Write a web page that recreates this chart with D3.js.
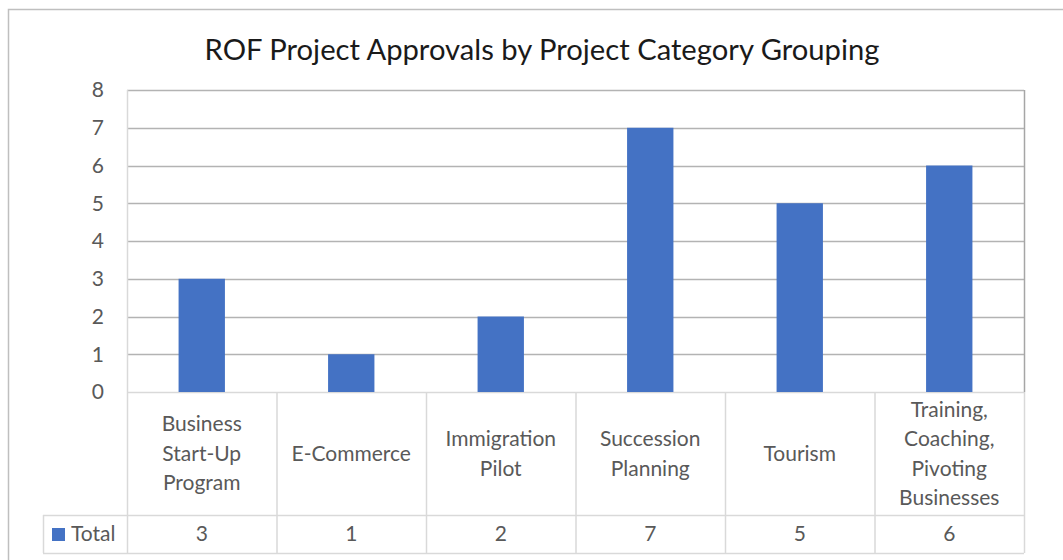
<!DOCTYPE html>
<html>
<head>
<meta charset="utf-8">
<script src="https://cdn.jsdelivr.net/npm/d3@7"></script>
<style>
  body { margin: 0; background: #fff; }
  svg { display: block; }
</style>
</head>
<body>
<div id="chart"></div>
<script>
// data
var categories = ["Business Start-Up Program", "E-Commerce", "Immigration Pilot",
                  "Succession Planning", "Tourism", "Training, Coaching, Pivoting Businesses"];
var labelLines = [["Business", "Start-Up", "Program"], ["E-Commerce"], ["Immigration", "Pilot"],
                  ["Succession", "Planning"], ["Tourism"], ["Training,", "Coaching,", "Pivoting", "Businesses"]];
var totals = [3, 1, 2, 7, 5, 6];
var yTicks = [0, 1, 2, 3, 4, 5, 6, 7, 8];
var seriesName = "Total";
var title = "ROF Project Approvals by Project Category Grouping";

var W = 1063, H = 560;
var plot = {left: 127, top: 90, right: 1024, bottom: 392};
var headerBottom = 515, tableBottom = 553, legendLeft = 43;
var font = "Lato, 'Open Sans', sans-serif";
var fs = "21px";

var svg = d3.select("#chart").append("svg")
    .attr("width", W)
    .attr("height", H);

// outer chart frame
svg.append("rect")
    .attr("x", 8.5).attr("y", 9.5)
    .attr("width", W + 20).attr("height", H + 20)
    .attr("fill", "#fff")
    .attr("stroke", "#bfbfbf")
    .attr("stroke-width", 1.5);

var xScale = d3.scaleBand()
    .domain(categories)
    .range([plot.left, plot.right])
    .paddingInner(0.69)
    .paddingOuter(0.345);

var xCell = d3.scaleBand()
    .domain(categories)
    .range([plot.left, plot.right]);

var yScale = d3.scaleLinear()
    .domain([0, 8])
    .range([plot.bottom, plot.top]);

// gridlines
svg.append("g")
    .selectAll("line")
    .data(yTicks)
    .enter().append("line")
    .attr("x1", plot.left).attr("x2", plot.right)
    .attr("y1", function(d) { return Math.round(yScale(d)) + 0.5; })
    .attr("y2", function(d) { return Math.round(yScale(d)) + 0.5; })
    .attr("stroke", function(d) { return d == 0 ? "#d9d9d9" : "#b3b3b3"; })
    .attr("stroke-width", 1.5);

// plot area sides
svg.append("line")
    .attr("x1", plot.left + 0.5).attr("x2", plot.left + 0.5)
    .attr("y1", plot.top).attr("y2", plot.bottom)
    .attr("stroke", "#d9d9d9").attr("stroke-width", 1.5);
svg.append("line")
    .attr("x1", plot.right + 0.5).attr("x2", plot.right + 0.5)
    .attr("y1", plot.top).attr("y2", plot.bottom)
    .attr("stroke", "#a6a6a6").attr("stroke-width", 1.5);

// bars
svg.selectAll(".bar")
    .data(totals)
    .enter().append("rect")
    .attr("class", "bar")
    .attr("x", function(d, i) { return xScale(categories[i]); })
    .attr("width", xScale.bandwidth())
    .attr("y", function(d) { return yScale(d); })
    .attr("height", function(d) { return plot.bottom - yScale(d); })
    .attr("fill", "#4472c4");

// y axis labels
svg.append("g")
    .selectAll("text")
    .data(yTicks)
    .enter().append("text")
    .attr("x", 104)
    .attr("y", function(d) { return yScale(d); })
    .attr("dy", "0.35em")
    .attr("text-anchor", "end")
    .attr("font-family", font)
    .attr("font-size", fs)
    .attr("fill", "#595959")
    .text(function(d) { return d; });

// data table grid
var tbl = svg.append("g").attr("stroke", "#d9d9d9").attr("stroke-width", 1.5);
var edges = categories.map(function(c) { return xCell(c); }).concat([plot.right]);
edges.forEach(function(x) {
    tbl.append("line")
        .attr("x1", x + 0.5).attr("x2", x + 0.5)
        .attr("y1", plot.bottom).attr("y2", tableBottom);
});
tbl.append("line").attr("x1", legendLeft).attr("x2", plot.right)
    .attr("y1", headerBottom + 0.5).attr("y2", headerBottom + 0.5);
tbl.append("line").attr("x1", legendLeft).attr("x2", plot.right)
    .attr("y1", tableBottom + 0.5).attr("y2", tableBottom + 0.5);
tbl.append("line").attr("x1", legendLeft + 0.5).attr("x2", legendLeft + 0.5)
    .attr("y1", headerBottom).attr("y2", tableBottom);

// category labels
var headMid = (plot.bottom + headerBottom) / 2;
var lineH = 29.5;
categories.forEach(function(c, i) {
    var lines = labelLines[i];
    var t = svg.append("text")
        .attr("text-anchor", "middle")
        .attr("font-family", font)
        .attr("font-size", fs)
        .attr("fill", "#595959");
    lines.forEach(function(l, j) {
        t.append("tspan")
            .attr("x", xCell(c) + xCell.bandwidth() / 2)
            .attr("y", headMid + (j - (lines.length - 1) / 2) * lineH)
            .attr("dy", "0.35em")
            .text(l);
    });
});

// value row
var rowMid = (headerBottom + tableBottom) / 2;
svg.append("g")
    .selectAll("text")
    .data(totals)
    .enter().append("text")
    .attr("x", function(d, i) { return xCell(categories[i]) + xCell.bandwidth() / 2; })
    .attr("y", rowMid)
    .attr("dy", "0.35em")
    .attr("text-anchor", "middle")
    .attr("font-family", font)
    .attr("font-size", fs)
    .attr("fill", "#595959")
    .text(function(d) { return d; });

// legend key
svg.append("rect")
    .attr("x", 52).attr("y", 528)
    .attr("width", 13).attr("height", 13)
    .attr("fill", "#4472c4");
svg.append("text")
    .attr("x", 71).attr("y", rowMid)
    .attr("dy", "0.35em")
    .attr("font-family", font)
    .attr("font-size", fs)
    .attr("fill", "#595959")
    .text(seriesName);

// title
var titleText = svg.append("text")
    .attr("x", 542)
    .attr("y", 60)
    .attr("text-anchor", "middle")
    .attr("font-family", font)
    .attr("font-size", "26px")
    .attr("fill", "#1a1a1a")
    .text(title);
var tw = titleText.node().getComputedTextLength();
titleText.attr("font-size", (26 * 676 / tw).toFixed(1) + "px");
</script>
</body>
</html>
